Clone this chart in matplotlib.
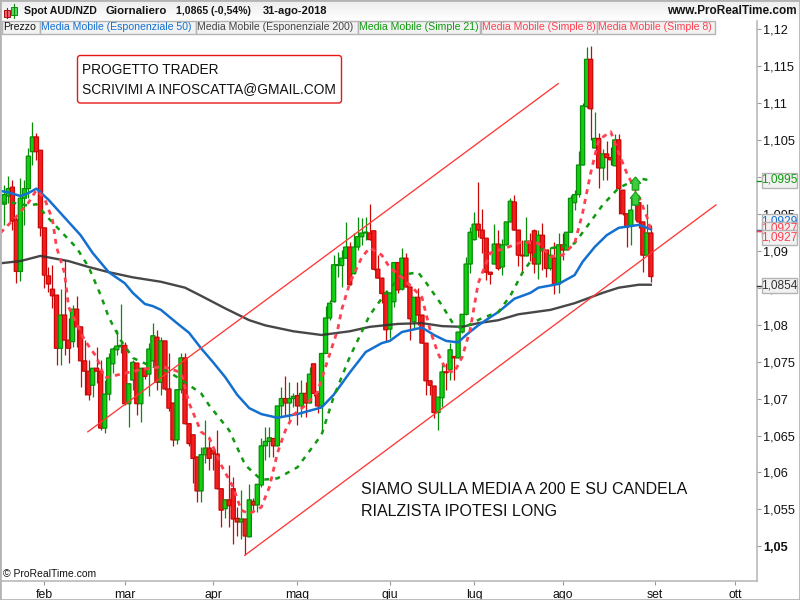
import numpy as np
import matplotlib
matplotlib.use('Agg')
import matplotlib.pyplot as plt
from matplotlib.patches import Rectangle, FancyBboxPatch
from matplotlib.path import Path

plt.rcParams['font.family'] = ['Liberation Sans', 'DejaVu Sans']

# daily candles, one row per bar: open, high, low, close
candles = [
    (1.0963, 1.0989, 1.0935, 1.0976), (1.0974, 1.1001, 1.0965, 1.0984), (1.0986, 1.0996, 1.0928, 1.0940),
    (1.0942, 1.0946, 1.0856, 1.0872), (1.0872, 1.0999, 1.0859, 1.0971), (1.0971, 1.0996, 1.0935, 1.0984),
    (1.0984, 1.1039, 1.0971, 1.1028), (1.1034, 1.1074, 1.1016, 1.1054), (1.1054, 1.1059, 1.1023, 1.1034),
    (1.1036, 1.1036, 1.0920, 1.0931), (1.0931, 1.0931, 1.0850, 1.0867), (1.0866, 1.0878, 1.0844, 1.0855),
    (1.0848, 1.0881, 1.0822, 1.0839), (1.0840, 1.0840, 1.0745, 1.0768), (1.0768, 1.0848, 1.0746, 1.0813),
    (1.0813, 1.0887, 1.0759, 1.0779), (1.0779, 1.0809, 1.0748, 1.0768), (1.0777, 1.0826, 1.0770, 1.0821),
    (1.0821, 1.0839, 1.0770, 1.0797), (1.0797, 1.0797, 1.0716, 1.0751), (1.0751, 1.0779, 1.0705, 1.0737),
    (1.0737, 1.0752, 1.0698, 1.0705), (1.0718, 1.0741, 1.0702, 1.0741), (1.0741, 1.0770, 1.0721, 1.0737),
    (1.0737, 1.0752, 1.0658, 1.0660), (1.0660, 1.0725, 1.0654, 1.0706), (1.0706, 1.0761, 1.0698, 1.0755),
    (1.0747, 1.0770, 1.0735, 1.0767), (1.0766, 1.0793, 1.0759, 1.0771), (1.0770, 1.0828, 1.0761, 1.0772),
    (1.0772, 1.0776, 1.0691, 1.0693), (1.0693, 1.0720, 1.0661, 1.0720), (1.0725, 1.0752, 1.0712, 1.0749),
    (1.0748, 1.0748, 1.0678, 1.0693), (1.0693, 1.0741, 1.0668, 1.0741), (1.0741, 1.0741, 1.0727, 1.0730),
    (1.0733, 1.0775, 1.0703, 1.0767), (1.0751, 1.0802, 1.0743, 1.0785), (1.0783, 1.0793, 1.0712, 1.0722),
    (1.0722, 1.0783, 1.0705, 1.0778), (1.0778, 1.0778, 1.0712, 1.0713), (1.0713, 1.0762, 1.0683, 1.0687),
    (1.0694, 1.0694, 1.0636, 1.0644), (1.0644, 1.0712, 1.0639, 1.0712), (1.0712, 1.0761, 1.0708, 1.0755),
    (1.0755, 1.0762, 1.0666, 1.0666), (1.0666, 1.0666, 1.0636, 1.0639), (1.0651, 1.0651, 1.0586, 1.0619),
    (1.0621, 1.0621, 1.0560, 1.0575), (1.0575, 1.0634, 1.0560, 1.0624), (1.0624, 1.0671, 1.0613, 1.0633),
    (1.0633, 1.0648, 1.0603, 1.0619), (1.0630, 1.0633, 1.0603, 1.0625), (1.0625, 1.0658, 1.0578, 1.0578),
    (1.0578, 1.0578, 1.0526, 1.0549), (1.0551, 1.0563, 1.0538, 1.0563), (1.0563, 1.0610, 1.0526, 1.0555),
    (1.0578, 1.0594, 1.0503, 1.0537), (1.0538, 1.0553, 1.0514, 1.0533), (1.0533, 1.0576, 1.0510, 1.0537),
    (1.0537, 1.0537, 1.0488, 1.0514), (1.0513, 1.0584, 1.0513, 1.0563), (1.0561, 1.0566, 1.0549, 1.0556),
    (1.0556, 1.0584, 1.0546, 1.0584), (1.0583, 1.0647, 1.0581, 1.0636), (1.0636, 1.0662, 1.0617, 1.0642),
    (1.0642, 1.0662, 1.0621, 1.0647), (1.0646, 1.0646, 1.0621, 1.0636), (1.0636, 1.0690, 1.0636, 1.0690),
    (1.0690, 1.0716, 1.0676, 1.0700), (1.0700, 1.0730, 1.0676, 1.0694), (1.0694, 1.0722, 1.0671, 1.0700),
    (1.0700, 1.0708, 1.0688, 1.0703), (1.0704, 1.0722, 1.0664, 1.0690), (1.0690, 1.0725, 1.0675, 1.0707),
    (1.0707, 1.0722, 1.0675, 1.0694), (1.0694, 1.0743, 1.0694, 1.0733), (1.0747, 1.0747, 1.0703, 1.0707),
    (1.0707, 1.0707, 1.0681, 1.0690), (1.0690, 1.0761, 1.0658, 1.0761), (1.0761, 1.0825, 1.0761, 1.0809),
    (1.0809, 1.0833, 1.0806, 1.0829), (1.0831, 1.0894, 1.0831, 1.0881), (1.0880, 1.0898, 1.0865, 1.0881),
    (1.0880, 1.0901, 1.0851, 1.0890), (1.0890, 1.0939, 1.0890, 1.0905), (1.0905, 1.0912, 1.0854, 1.0854),
    (1.0869, 1.0924, 1.0869, 1.0905), (1.0905, 1.0946, 1.0901, 1.0919), (1.0919, 1.0944, 1.0908, 1.0924),
    (1.0924, 1.0946, 1.0915, 1.0925), (1.0924, 1.0963, 1.0915, 1.0915), (1.0927, 1.0927, 1.0874, 1.0875),
    (1.0875, 1.0894, 1.0863, 1.0863), (1.0863, 1.0863, 1.0829, 1.0842), (1.0843, 1.0843, 1.0778, 1.0793),
    (1.0794, 1.0843, 1.0782, 1.0843), (1.0831, 1.0884, 1.0824, 1.0884), (1.0884, 1.0884, 1.0843, 1.0847),
    (1.0848, 1.0904, 1.0847, 1.0890), (1.0890, 1.0897, 1.0851, 1.0851), (1.0851, 1.0851, 1.0779, 1.0808),
    (1.0804, 1.0837, 1.0795, 1.0837), (1.0837, 1.0850, 1.0799, 1.0813), (1.0813, 1.0813, 1.0775, 1.0775),
    (1.0775, 1.0775, 1.0705, 1.0724), (1.0724, 1.0724, 1.0705, 1.0718), (1.0717, 1.0717, 1.0674, 1.0681),
    (1.0681, 1.0702, 1.0658, 1.0702), (1.0701, 1.0748, 1.0688, 1.0736), (1.0736, 1.0748, 1.0712, 1.0735),
    (1.0739, 1.0775, 1.0725, 1.0766), (1.0757, 1.0757, 1.0725, 1.0755), (1.0755, 1.0790, 1.0755, 1.0790),
    (1.0790, 1.0814, 1.0789, 1.0814), (1.0814, 1.0892, 1.0813, 1.0882), (1.0882, 1.0932, 1.0870, 1.0925),
    (1.0915, 1.0952, 1.0915, 1.0936), (1.0936, 1.0993, 1.0919, 1.0928), (1.0928, 1.0957, 1.0897, 1.0917),
    (1.0917, 1.0917, 1.0860, 1.0871), (1.0871, 1.0871, 1.0855, 1.0868), (1.0882, 1.0936, 1.0882, 1.0909),
    (1.0909, 1.0928, 1.0874, 1.0876), (1.0878, 1.0916, 1.0867, 1.0908), (1.0908, 1.0939, 1.0908, 1.0939),
    (1.0939, 1.0972, 1.0939, 1.0967), (1.0966, 1.0976, 1.0928, 1.0928), (1.0928, 1.0928, 1.0879, 1.0894),
    (1.0894, 1.0915, 1.0871, 1.0893), (1.0893, 1.0946, 1.0893, 1.0913), (1.0913, 1.0924, 1.0886, 1.0897),
    (1.0927, 1.0930, 1.0870, 1.0882), (1.0882, 1.0928, 1.0862, 1.0921), (1.0921, 1.0938, 1.0874, 1.0900),
    (1.0901, 1.0901, 1.0865, 1.0876), (1.0876, 1.0905, 1.0874, 1.0894), (1.0890, 1.0912, 1.0842, 1.0855),
    (1.0855, 1.0924, 1.0843, 1.0908), (1.0908, 1.0924, 1.0887, 1.0901), (1.0901, 1.0925, 1.0901, 1.0925),
    (1.0925, 1.0976, 1.0925, 1.0971), (1.0965, 1.0982, 1.0955, 1.0976), (1.0976, 1.1035, 1.0973, 1.1016),
    (1.1016, 1.1100, 1.1016, 1.1096), (1.1095, 1.1176, 1.1093, 1.1159), (1.1159, 1.1177, 1.1050, 1.1092),
    (1.1039, 1.1088, 1.1039, 1.1052), (1.1052, 1.1059, 1.0985, 1.1012), (1.1012, 1.1038, 1.0996, 1.1031),
    (1.1031, 1.1048, 1.0996, 1.1026), (1.1026, 1.1041, 1.1016, 1.1023), (1.1015, 1.1058, 1.1015, 1.1050),
    (1.1050, 1.1058, 1.0950, 1.0984), (1.0982, 1.0982, 1.0948, 1.0950), (1.0950, 1.0950, 1.0905, 1.0932),
    (1.0934, 1.0971, 1.0908, 1.0955), (1.0962, 1.0982, 1.0942, 1.0965), (1.0965, 1.0965, 1.0931, 1.0939),
    (1.0939, 1.0939, 1.0871, 1.0894), (1.0894, 1.0963, 1.0894, 1.0924), (1.0924, 1.0935, 1.0858, 1.0865),
]

# moving averages (bar number, price)
ema50_bars = [-1, 1, 4, 6, 8, 11, 16, 19, 22, 26, 30, 32, 35, 37, 39, 43, 46, 49, 52, 55, 58, 61, 64, 68, 73, 79, 82,
              86, 90, 94, 96, 99, 104, 107, 110, 113, 115, 118, 121, 123, 127, 131, 133, 138, 142, 144, 147, 150,
              153, 158, 161]
ema50_vals = [1.0981, 1.0979, 1.0974, 1.0978, 1.0984, 1.0969, 1.0939, 1.0921, 1.0897, 1.0871, 1.0856, 1.0843, 1.0828,
              1.0825, 1.0820, 1.0802, 1.0789, 1.0768, 1.0749, 1.0729, 1.0705, 1.0687, 1.0679, 1.0674, 1.0679, 1.0688,
              1.0705, 1.0735, 1.0763, 1.0775, 1.0778, 1.0790, 1.0796, 1.0786, 1.0778, 1.0776, 1.0786, 1.0799,
              1.0810, 1.0817, 1.0835, 1.0843, 1.0850, 1.0855, 1.0867, 1.0885, 1.0905, 1.0921, 1.0931, 1.0935,
              1.0929]
ema200_bars = [-1, 4, 9, 11, 16, 21, 26, 32, 39, 45, 49, 55, 61, 65, 72, 79, 86, 91, 98, 104, 109, 114, 118, 123, 128,
               136, 142, 145, 149, 153, 158, 161]
ema200_vals = [1.0883, 1.0886, 1.0893, 1.0891, 1.0886, 1.0878, 1.0871, 1.0864, 1.0858, 1.0850, 1.0839, 1.0822,
               1.0806, 1.0799, 1.0791, 1.0786, 1.0791, 1.0797, 1.0801, 1.0802, 1.0798, 1.0797, 1.0802, 1.0806, 1.0814,
               1.0820, 1.0829, 1.0835, 1.0843, 1.0850, 1.0854, 1.0854]
sma21_bars = [-1, 2, 6, 8, 11, 15, 18, 21, 24, 26, 29, 32, 36, 41, 45, 49, 51, 56, 60, 64, 68, 73, 79, 82, 86, 91,
              95, 99, 103, 105, 109, 112, 114, 119, 123, 126, 129, 133, 138, 142, 145, 149, 153, 158, 161]
sma21_vals = [1.0965, 1.0965, 1.0961, 1.0963, 1.0944, 1.0921, 1.0904, 1.0878, 1.0840, 1.0810, 1.0779, 1.0755,
              1.0745, 1.0736, 1.0722, 1.0707, 1.0691, 1.0657, 1.0610, 1.0590, 1.0592, 1.0607, 1.0651, 1.0702,
              1.0756, 1.0813, 1.0843, 1.0867, 1.0871, 1.0857, 1.0826, 1.0799, 1.0795, 1.0809, 1.0817, 1.0839,
              1.0870, 1.0901, 1.0905, 1.0910, 1.0932, 1.0962, 1.0985, 1.0998, 1.0995]
sma8_bars = [-1, 3, 6, 8, 10, 12, 13, 15, 16, 20, 23, 25, 29, 34, 39, 41, 44, 46, 49, 51, 54, 57, 59, 61, 64, 66,
             68, 70, 72, 75, 78, 80, 83, 84, 86, 89, 91, 94, 96, 99, 102, 104, 106, 108, 110, 112, 114, 116, 118,
             121, 125, 129, 133, 136, 139, 142, 144, 146, 148, 151, 153, 155, 158, 160, 161]
sma8_vals = [1.0924, 1.0946, 1.0965, 1.0982, 1.0971, 1.0942, 1.0905, 1.0870, 1.0824, 1.0779, 1.0756, 1.0728, 1.0733,
             1.0739, 1.0743, 1.0741, 1.0735, 1.0694, 1.0655, 1.0647, 1.0610, 1.0580, 1.0549, 1.0544, 1.0553, 1.0580,
             1.0626, 1.0657, 1.0678, 1.0691, 1.0709, 1.0743, 1.0793, 1.0820, 1.0856, 1.0891, 1.0904, 1.0894, 1.0877,
             1.0864, 1.0848, 1.0837, 1.0793, 1.0761, 1.0739, 1.0735, 1.0756, 1.0793, 1.0856, 1.0897, 1.0904, 1.0912,
             1.0910, 1.0892, 1.0894, 1.0910, 1.0951, 1.1005, 1.1050, 1.1061, 1.1032, 1.1005, 1.0973, 1.0946, 1.0927]

# hand drawn channel lines (bar, price)
channel_up = ([20.8, 137.9], [1.0655, 1.1126])
channel_low = ([59.9, 177.2], [1.0488, 1.0962])

# buy signals on the same bar
arrow_bars = [157, 157]
arrow_vals = [1.0991, 1.0972]

y_ticks = [1.05, 1.055, 1.06, 1.065, 1.07, 1.075, 1.08, 1.085, 1.09, 1.095, 1.1, 1.105, 1.11, 1.115, 1.12]
y_labels = ['1,05', '1,055', '1,06', '1,065', '1,07', '1,075', '1,08', '1,085', '1,09', '1,095', '1,1', '1,105',
            '1,11', '1,115', '1,12']
x_tick_bars = [10, 30, 52, 73, 96, 117, 139, 162, 182]
x_labels = ['feb', 'mar', 'apr', 'mag', 'giu', 'lug', 'ago', 'set', 'ott']

tab_names = ['Prezzo', 'Media Mobile (Esponenziale 50)', 'Media Mobile (Esponenziale 200)',
             'Media Mobile (Simple 21)', 'Media Mobile (Simple 8)', 'Media Mobile (Simple 8)']
tab_edges = [2, 39.5, 195.5, 357.5, 480.5, 597, 715]

BLUE = '#1470d0'
DARK = '#333333'
GREEN = '#0f9a0f'
RED = '#ff4050'
TREND = '#ff3838'
BORDER = '#b4b4b4'


def fx(x):
    return x / 800


def fy(y):
    return 1 - y / 600


fig = plt.figure(figsize=(8, 6), dpi=100, facecolor='white')

# price panel
ax = fig.add_axes([fx(1), fy(581), fx(755.5), (581 - 21) / 600])
ax.set_xlim((1 - 4.3) / 4.016, (756.5 - 4.3) / 4.016)
ax.set_ylim(1.12 - 552 * 0.0001353, 1.12 + 8 * 0.0001353)

for i, (o, h, l, c) in enumerate(candles):
    up = c >= o
    edge = '#0a8c0a' if up else '#c80808'
    fill = '#10d010' if up else '#f41c1c'
    ax.vlines(i, l, h, color=edge, lw=0.9, zorder=2)
    ax.add_patch(Rectangle((i - 0.52, min(o, c)), 1.04, max(abs(c - o), 0.00012), facecolor=fill, edgecolor=edge,
                           lw=0.9, zorder=2, snap=False))

ax.plot(ema200_bars, ema200_vals, color=DARK, lw=1.7, alpha=0.9, zorder=3, solid_joinstyle='round')
ax.plot(ema50_bars, ema50_vals, color=BLUE, lw=1.8, zorder=3, solid_joinstyle='round')
ax.plot(sma21_bars, sma21_vals, color=GREEN, lw=1.8, ls=(0, (2, 2.4)), zorder=3)
ax.plot(sma8_bars, sma8_vals, color=RED, lw=2.0, ls=(0, (1.8, 1.8)), zorder=3)

ax.plot(channel_up[0], channel_up[1], color=TREND, lw=0.95, zorder=4)
ax.plot(channel_low[0], channel_low[1], color=TREND, lw=0.95, zorder=4)

arrow = Path([(0, 0.5), (0.4, 0.02), (0.25, 0.02), (0.25, -0.5), (-0.25, -0.5), (-0.25, 0.02), (-0.4, 0.02), (0, 0.5)])
ax.plot(arrow_bars, arrow_vals, ls='none', marker=arrow, ms=9.5, mfc='#3ecb3e', mec='#0f9a0f', mew=0.8, zorder=5)

ax.yaxis.tick_right()
ax.set_yticks(y_ticks)
ax.set_yticklabels(y_labels, fontsize=9.2, color='#111111')
ax.get_yticklabels()[0].set_fontweight('bold')
ax.set_xticks(x_tick_bars)
ax.set_xticklabels(x_labels, fontsize=8.8, color='#111111')
ax.tick_params(axis='y', length=3, width=0.8, color='#999999', pad=1.5)
ax.tick_params(axis='x', length=3, width=0.8, color='#999999', pad=3)
for side in ['top', 'left']:
    ax.spines[side].set_visible(False)
for side in ['right', 'bottom']:
    ax.spines[side].set_color(BORDER)
    ax.spines[side].set_linewidth(1.1)

# header band
head = fig.add_axes([fx(1), fy(20), fx(798), 19 / 600])
head.imshow(np.linspace(0.93, 0.995, 30).reshape(-1, 1), cmap='gray', vmin=0, vmax=1, aspect='auto')
head.axis('off')

fig.add_artist(Rectangle((0, 0), 1, 1, transform=fig.transFigure, fill=False, edgecolor=BORDER, lw=2))

# little candle logo
for x0, y0, w, hh, y_top, y_bot, fc, ec in [(3.5, 10, 6, 7, 8, 18, '#f06070', '#a81010'),
                                            (11, 7, 6, 8, 4, 18, '#50e060', '#108a10')]:
    fig.add_artist(plt.Line2D([fx(x0 + w / 2)] * 2, [fy(y_top), fy(y_bot)], color=ec, lw=0.8))
    fig.add_artist(Rectangle((fx(x0), fy(y0 + hh)), w / 800, hh / 600, facecolor=fc, edgecolor=ec, lw=0.7))

title_y = 11
fig.text(fx(24), fy(title_y), 'Spot AUD/NZD', fontsize=7.6, fontweight='bold', color='#141414', va='center')
fig.text(fx(106), fy(title_y), 'Giornaliero', fontsize=8.2, fontweight='bold', color='#141414', va='center')
fig.text(fx(176), fy(title_y), '1,0865 (-0,54%)', fontsize=7.6, fontweight='bold', color='#141414', va='center')
fig.text(fx(263), fy(title_y), '31-ago-2018', fontsize=8.0, fontweight='bold', color='#141414', va='center')
fig.text(fx(797), fy(title_y), 'www.ProRealTime.com', fontsize=8.45, fontweight='bold', color='#141414', va='center',
         ha='right')

tab_colors = ['#111111', BLUE, '#444444', GREEN, RED, RED]
for name, col, x0, x1 in zip(tab_names, tab_colors, tab_edges[:-1], tab_edges[1:]):
    fig.add_artist(Rectangle((fx(x0), fy(34)), (x1 - x0) / 800, 13 / 600, facecolor='#f2f2f2', edgecolor=BORDER, lw=1))
    fig.text(fx(x0 + 1.2), fy(27.5), name, fontsize=7.6, color=col, va='center')

# note boxes and free text
fig.add_artist(FancyBboxPatch((fx(77.5), fy(103)), 264 / 800, 47.5 / 600, boxstyle='round,pad=0,rounding_size=0.0035',
                              transform=fig.transFigure, facecolor='white', edgecolor='#e81818', lw=1,
                              mutation_aspect=1.33))
fig.text(fx(82), fy(70), 'PROGETTO TRADER', fontsize=9.9, color='#111111', va='center')
fig.text(fx(82), fy(89), 'SCRIVIMI A INFOSCATTA@GMAIL.COM', fontsize=9.9, color='#111111', va='center')
fig.text(fx(361), fy(490), 'SIAMO SULLA MEDIA A 200 E SU CANDELA', fontsize=11.5, color='#111111', va='center')
fig.text(fx(361), fy(511), 'RIALZISTA IPOTESI LONG', fontsize=11.5, color='#111111', va='center')
fig.text(fx(3), fy(574), '\u00a9 ProRealTime.com', fontsize=7.5, color='#111111', va='center')

# last value tags on the price scale, later tags cover the earlier ones
tags = [(180, '1,0995', GREEN, 180.5), (221, '1,0929', BLUE, 230), (229, '1,0927', RED, 230.7),
        (237, '1,0927', RED, 230.7), (285, '1,0854', DARK, 285.7)]
for n, (y_tag, txt, col, y_tick) in enumerate(tags):
    fig.add_artist(plt.Line2D([fx(757), fx(762)], [fy(y_tick), fy(y_tick)], color=col, lw=1, zorder=4 + 2 * n))
    fig.add_artist(Rectangle((fx(762), fy(y_tag + 7.5)), 35 / 800, 15 / 600, facecolor='#f1f1f1', edgecolor=BORDER,
                             lw=1, zorder=4 + 2 * n))
    fig.text(fx(779.5), fy(y_tag), txt, fontsize=8.6, color=col, va='center', ha='center', zorder=5 + 2 * n)

fig.savefig('out.png', dpi=100)
